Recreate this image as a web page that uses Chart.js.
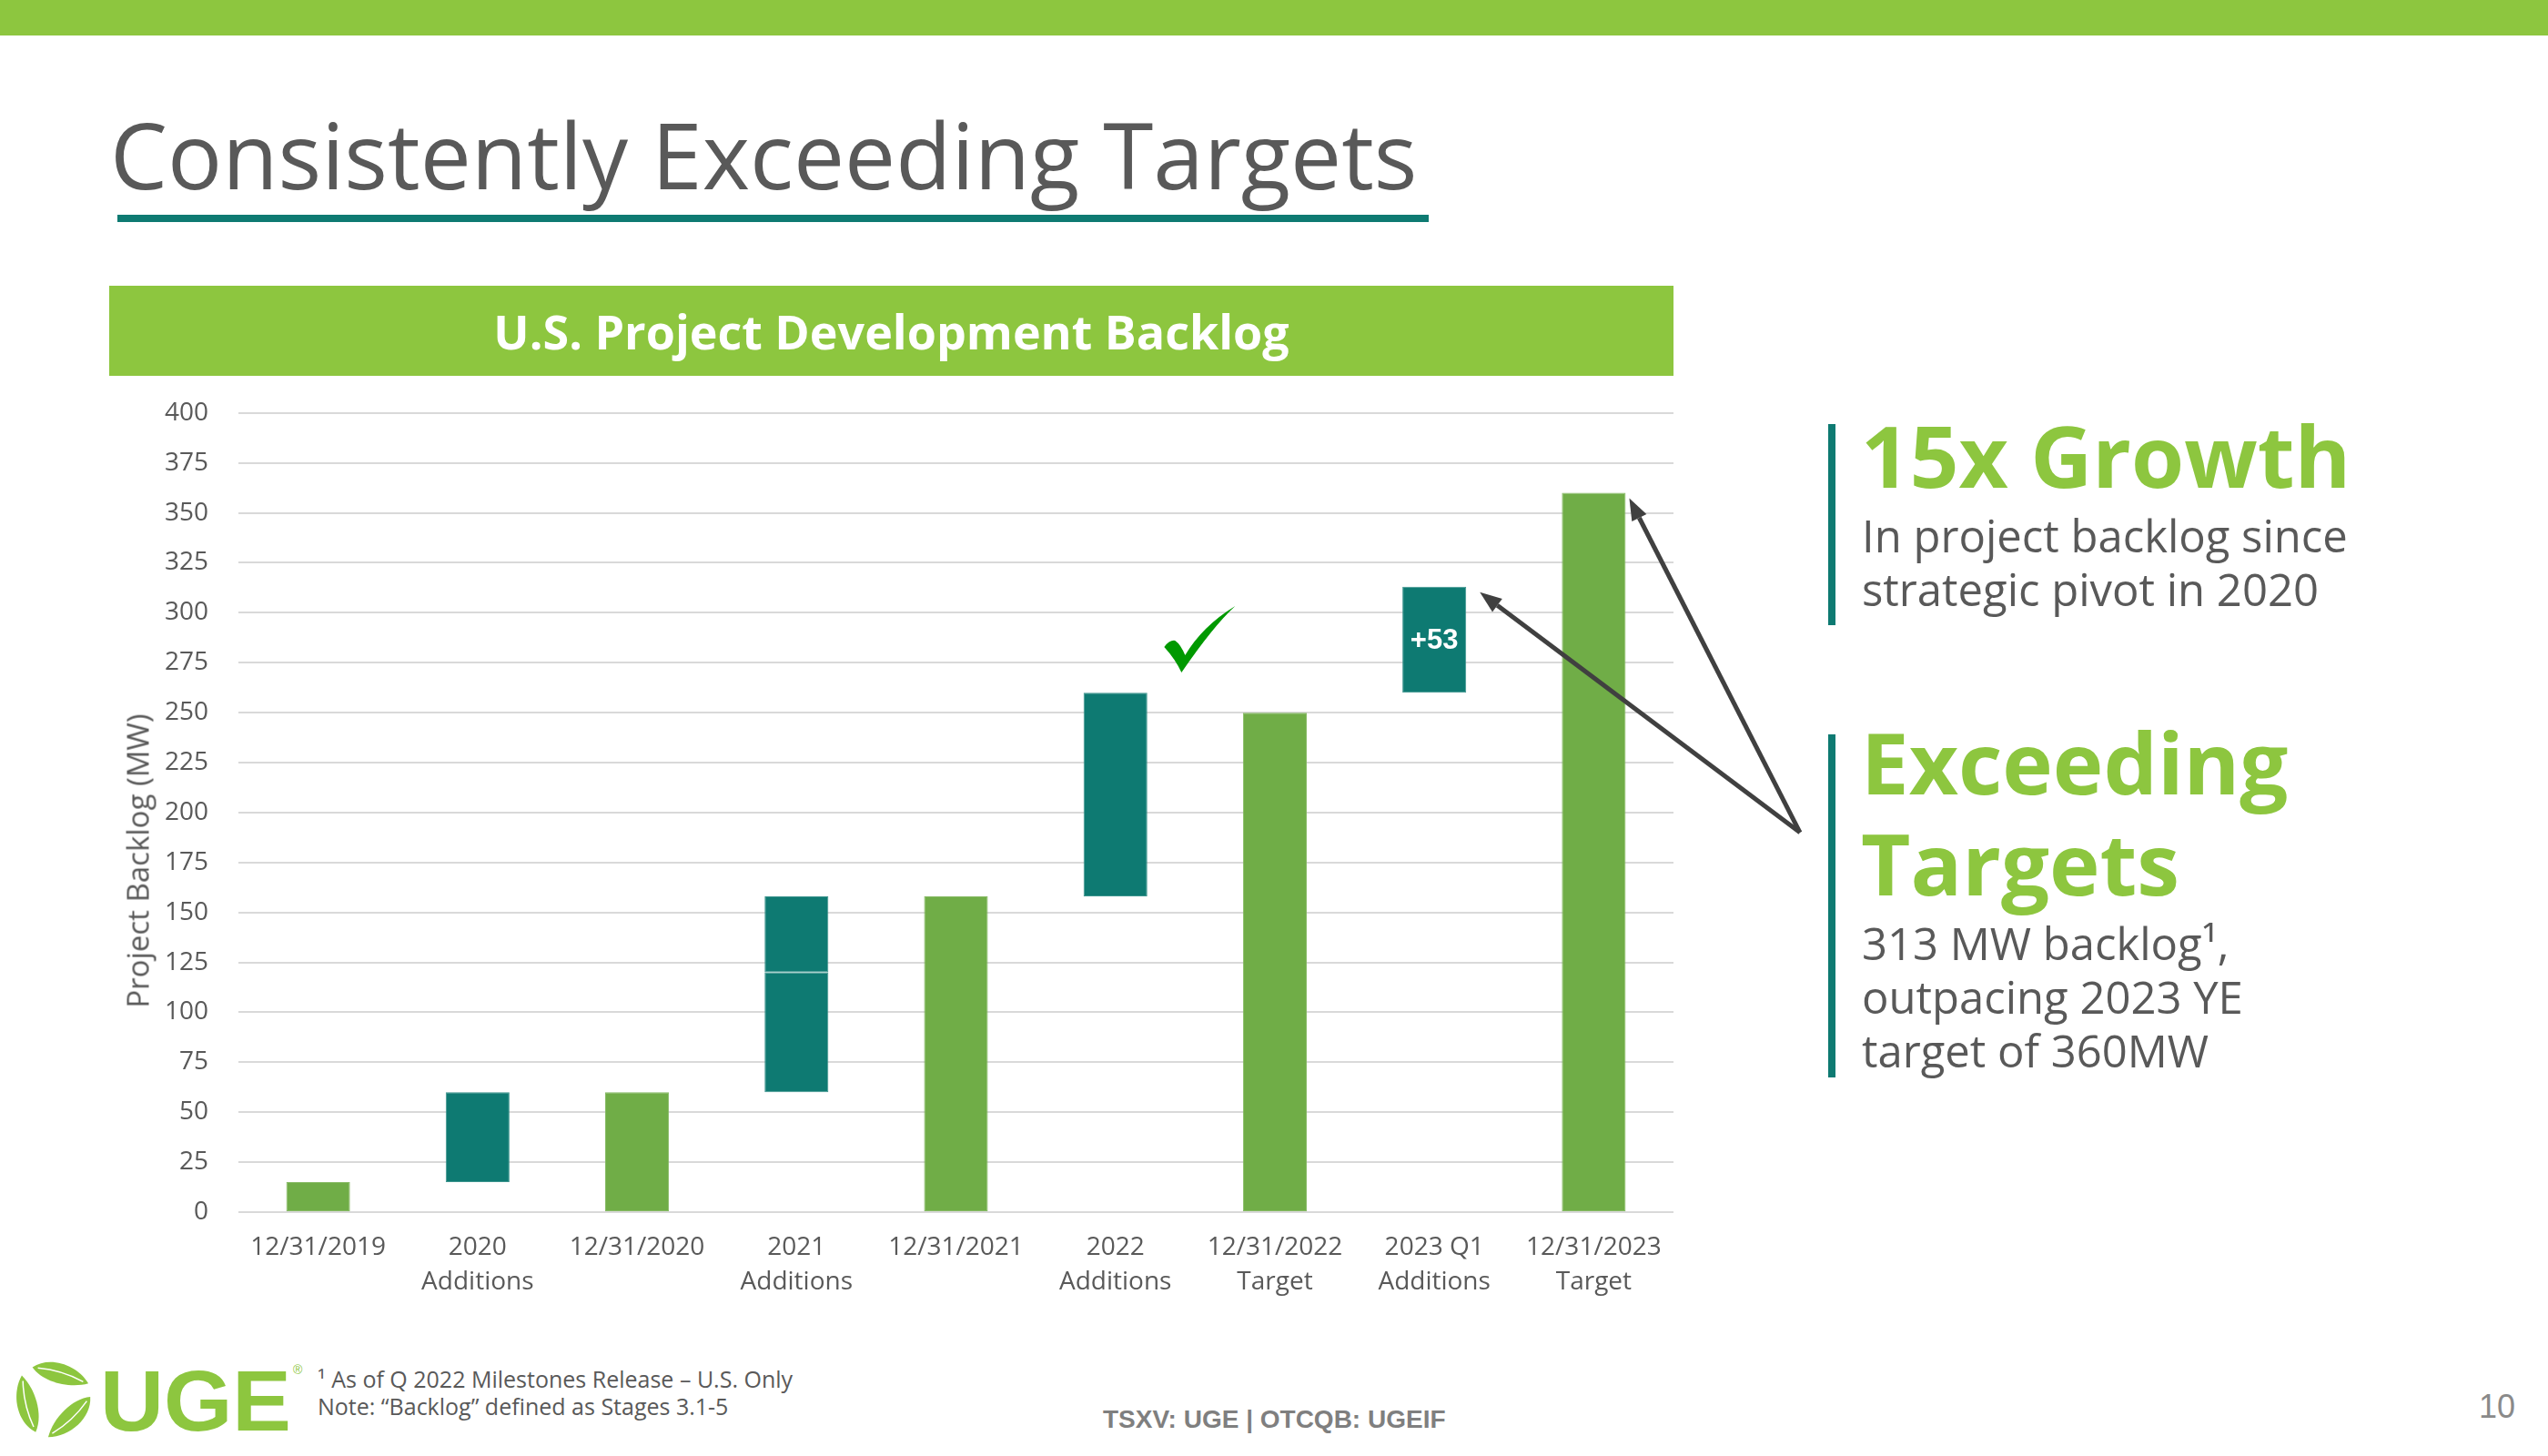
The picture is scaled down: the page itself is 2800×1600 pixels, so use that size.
<!doctype html>
<html lang="en">
<head>
<meta charset="utf-8">
<title>Consistently Exceeding Targets</title>
<script src="https://cdn.jsdelivr.net/npm/chart.js"></script>
<style>
  html, body { margin: 0; padding: 0; }
  body { width: 2800px; height: 1600px; position: relative; overflow: hidden; background: #fff; font-family: 'Open Sans', sans-serif; color: #595959; }
  .abs { position: absolute; margin: 0; white-space: nowrap; }
  .topbar { left: 0; top: 0; width: 2800px; height: 39px; background: #8DC63F; }
  h1 { left: 121px; top: 119px; font-size: 100px; line-height: 100px; font-weight: 400; color: #595959; }
  .rule { left: 129px; top: 236px; width: 1441px; height: 8px; background: #0E7A72; }
  .band { left: 120px; top: 314px; width: 1719px; height: 99px; background: #8DC63F; color: #fff; font-weight: 700; font-size: 52px; line-height: 99px; text-align: center; box-sizing: border-box; }
  /* chart top sits 49px above the 400 line (tick padding adds to the scale's top padding) */
  .chart-box { left: 120px; top: 404px; width: 1880px; height: 1028px; }
  .ytitle { left: 151px; top: 946px; font-size: 33px; line-height: 33px; color: #595959; transform: translate(-50%, -50%) rotate(-90deg); }
  .vbar { left: 2009px; width: 8px; background: #0E7A72; }
  .big { left: 2045px; font-size: 94px; font-weight: 700; color: #8DC63F; }
  .sub { left: 2046px; font-size: 49px; line-height: 59px; color: #595959; }
  .note { left: 349px; top: 1500px; font-size: 25px; line-height: 30px; color: #595959; }
  .ticker { left: 1212px; top: 1546px; font-family: 'Liberation Sans', Arial, sans-serif; font-weight: 700; font-size: 28px; line-height: 28px; color: #7F7F7F; }
  .page { left: 2724px; top: 1528px; font-family: 'Liberation Sans', Arial, sans-serif; font-size: 36px; line-height: 36px; color: #8A8A8A; }
  .logo { left: 10px; top: 1490px; }
</style>
</head>
<body>

<div class="abs topbar"></div>
<h1 class="abs">Consistently Exceeding Targets</h1>
<div class="abs rule"></div>

<div class="abs band">U.S. Project Development Backlog</div>
<div class="abs chart-box"><canvas id="backlog"></canvas></div>
<div class="abs ytitle">Project Backlog (MW)</div>

<div class="abs vbar" style="top:466px;height:221px"></div>
<div class="abs big" style="top:453px;line-height:94px">15x Growth</div>
<div class="abs sub" style="top:559px">In project backlog since<br>strategic pivot in 2020</div>

<div class="abs vbar" style="top:807px;height:377px"></div>
<div class="abs big" style="top:782px;line-height:111px">Exceeding<br>Targets</div>
<div class="abs sub" style="top:1007px">313 MW backlog¹,<br>outpacing 2023 YE<br>target of 360MW</div>

<svg class="abs logo" width="330" height="95" viewBox="0 0 330 95">
  <g transform="translate(48,47) rotate(18)" fill="#8DC63F">
    <g transform="rotate(0) translate(0,-28)">
      <path d="M-32,2 C-18,-16 14,-16 32,0 C14,12 -16,14 -32,2 Z"/>
      <path d="M-26,1 Q0,-5 26,0" stroke="#fff" stroke-width="1.5" fill="none"/>
    </g>
    <g transform="rotate(120) translate(0,-28)">
      <path d="M-32,2 C-18,-16 14,-16 32,0 C14,12 -16,14 -32,2 Z"/>
      <path d="M-26,1 Q0,-5 26,0" stroke="#fff" stroke-width="1.5" fill="none"/>
    </g>
    <g transform="rotate(240) translate(0,-28)">
      <path d="M-32,2 C-18,-16 14,-16 32,0 C14,12 -16,14 -32,2 Z"/>
      <path d="M-26,1 Q0,-5 26,0" stroke="#fff" stroke-width="1.5" fill="none"/>
    </g>
  </g>
  <text x="100" y="82" textLength="210" lengthAdjust="spacingAndGlyphs" font-family="Liberation Sans, Arial, sans-serif" font-weight="700" font-size="94" fill="#8DC63F">UGE</text>
  <text x="312" y="20" font-family="Liberation Sans, Arial, sans-serif" font-size="14" fill="#8DC63F">®</text>
</svg>

<div class="abs note">¹ As of Q 2022 Milestones Release – U.S. Only<br>Note: “Backlog” defined as Stages 3.1-5</div>
<div class="abs ticker">TSXV: UGE | OTCQB: UGEIF</div>
<div class="abs page">10</div>

<script>
  const categories = [
    ['12/31/2019'], ['2020', 'Additions'], ['12/31/2020'], ['2021', 'Additions'],
    ['12/31/2021'], ['2022', 'Additions'], ['12/31/2022', 'Target'],
    ['2023 Q1', 'Additions'], ['12/31/2023', 'Target']
  ];

  // backlog at year end / target (MW), drawn from 0
  const totals = [15, null, 60, null, 158, null, 250, null, 360];
  // additions as floating bars [from, to]
  const additions = [null, [15, 60], null, [60, 120], null, [158, 260], null, [260, 313], null];
  const additionsPart2 = [null, null, null, [120, 158], null, null, null, null, null];
  const barLabels = [null, null, null, null, null, null, null, '+53', null];

  const yMin = 0;
  const yMax = 400;
  const yStep = 25;

  const green = '#70AD47';
  const teal = '#0E7A72';
  const grey = '#595959';

  function drawArrow(ctx, x0, y0, x1, y1) {
    const ang = Math.atan2(y1 - y0, x1 - x0);
    const head = 24, half = 9;
    const bx = x1 - head * Math.cos(ang), by = y1 - head * Math.sin(ang);
    ctx.beginPath();
    ctx.moveTo(x0, y0);
    ctx.lineTo(bx, by);
    ctx.stroke();
    ctx.beginPath();
    ctx.moveTo(x1, y1);
    ctx.lineTo(bx + half * Math.sin(ang), by - half * Math.cos(ang));
    ctx.lineTo(bx - half * Math.sin(ang), by + half * Math.cos(ang));
    ctx.closePath();
    ctx.fill();
  }

  const overlay = {
    id: 'overlay',
    afterDatasetsDraw(chart) {
      const ctx = chart.ctx;
      chart.getDatasetMeta(1).data.forEach((bar, i) => {
        if (!barLabels[i]) return;
        const p = bar.getProps(['x', 'y', 'base'], true);
        ctx.save();
        ctx.fillStyle = '#fff';
        ctx.font = 'bold 31px "Liberation Sans", Arial, sans-serif';
        ctx.textAlign = 'center';
        ctx.textBaseline = 'middle';
        ctx.fillText(barLabels[i], p.x, (p.y + p.base) / 2 + 1);
        ctx.restore();
      });
    },
    afterDraw(chart) {
      const ctx = chart.ctx;
      const xs = chart.scales.x, ys = chart.scales.y;

      // check mark next to 2022 additions
      const cx = (xs.getPixelForValue(5) + xs.getPixelForValue(6)) / 2 + 5;
      const cy = ys.getPixelForValue(287);
      ctx.save();
      ctx.translate(cx - 39, cy - 36);
      ctx.fillStyle = '#009900';
      ctx.beginPath();
      ctx.moveTo(0, 45);
      ctx.quadraticCurveTo(6, 37, 12, 38);
      ctx.quadraticCurveTo(18, 42, 23, 54);
      ctx.quadraticCurveTo(42, 22, 78, 0);
      ctx.quadraticCurveTo(54, 22, 19, 73);
      ctx.quadraticCurveTo(12, 58, 0, 45);
      ctx.closePath();
      ctx.fill();
      ctx.restore();

      // arrows from the "Exceeding Targets" note
      const ox = chart.chartArea.right + 139;
      const oy = ys.getPixelForValue(190);
      const q1 = chart.getDatasetMeta(1).data[7];
      const tgt = chart.getDatasetMeta(0).data[8];
      ctx.save();
      ctx.strokeStyle = '#404040';
      ctx.fillStyle = '#404040';
      ctx.lineWidth = 5;
      drawArrow(ctx, ox, oy, q1.x + q1.width / 2 + 15, q1.y + 6);
      drawArrow(ctx, ox, oy, tgt.x + tgt.width / 2 + 4, tgt.y + 6);
      ctx.restore();
    }
  };

  const barStyle = { borderWidth: 1, borderSkipped: false, grouped: false, barPercentage: 0.4, categoryPercentage: 1.0 };

  new Chart(document.getElementById('backlog'), {
    type: 'bar',
    data: {
      labels: categories,
      datasets: [
        Object.assign({ label: 'Backlog', data: totals, backgroundColor: green, borderColor: '#86BA64' }, barStyle),
        Object.assign({ label: 'Additions', data: additions, backgroundColor: teal, borderColor: '#3C948D' }, barStyle),
        Object.assign({ label: 'Additions (2)', data: additionsPart2, backgroundColor: teal, borderColor: '#3C948D' }, barStyle)
      ]
    },
    options: {
      responsive: true,
      maintainAspectRatio: false,
      animation: false,
      layout: { padding: { top: 0, right: 161, bottom: 0, left: 0 } },
      plugins: {
        legend: { display: false },
        tooltip: { enabled: false }
      },
      scales: {
        x: {
          grid: { display: false, drawTicks: false },
          border: { display: false },
          ticks: {
            color: grey,
            font: { family: 'Open Sans', size: 28, lineHeight: 1.35 },
            padding: 20,
            maxRotation: 0,
            autoSkip: false
          },
          afterFit(s) { s.height = 100; }
        },
        y: {
          min: yMin,
          max: yMax,
          grid: { color: '#D9D9D9', lineWidth: 2, drawTicks: false },
          border: { display: false },
          ticks: {
            stepSize: yStep,
            color: grey,
            font: { family: 'Open Sans', size: 28 },
            padding: 33
          },
          afterFit(s) { s.width = 142; }
        }
      }
    },
    plugins: [overlay]
  });
</script>
</body>
</html>
